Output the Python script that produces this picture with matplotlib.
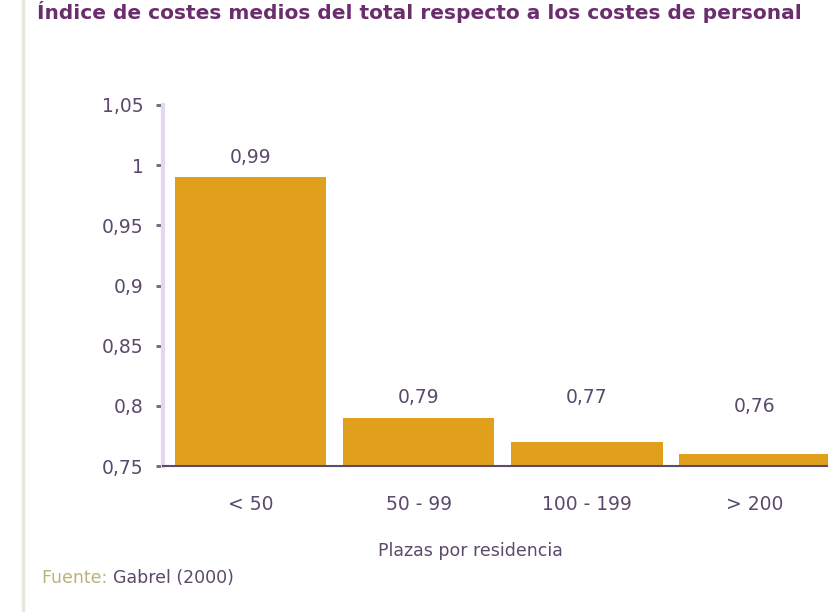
import matplotlib.pyplot as plt
from matplotlib.lines import Line2D
from matplotlib.ticker import FuncFormatter

# Indice de costes por tamaño de residencia
categorias = ['< 50', '50 - 99', '100 - 199', '> 200']
indice = [0.99, 0.79, 0.77, 0.76]
etiquetas = ['0,99', '0,79', '0,77', '0,76']
yticks = [0.75, 0.8, 0.85, 0.9, 0.95, 1.0, 1.05]

morado = '#5b4a6b'
naranja = '#e0a01c'

plt.rcParams['font.family'] = ['DejaVu Sans']

fig = plt.figure(figsize=(8.29, 6.12), dpi=100)
ax = fig.add_axes([163 / 829, 1 - 466 / 612, 1 - 163 / 829, (466 - 105) / 612])

x = range(len(categorias))
ax.bar(x, indice, width=0.9, color=naranja, zorder=2)
ax.set_xlim(-0.52, 3.44)
ax.set_ylim(0.75, 1.05)

# etiquetas de valor sobre cada barra (desplazamiento en puntos)
desp = [14, 15, 32, 34]
for i, (v, t) in enumerate(zip(indice, etiquetas)):
    ax.annotate(t, (i, v), xytext=(0, desp[i]), textcoords='offset points',
                ha='center', va='center', fontsize=13.5, color=morado)

ax.set_yticks(yticks)
ax.yaxis.set_major_formatter(FuncFormatter(lambda v, p: ('%g' % v).replace('.', ',')))
ax.set_xticks(list(x))
ax.set_xticklabels(categorias)
ax.tick_params(axis='y', length=5, width=2, color='#6f6280', labelcolor=morado,
               labelsize=13.5, pad=9)
ax.tick_params(axis='x', length=0, labelcolor=morado, labelsize=13.5, pad=21)

for s in ['top', 'right']:
    ax.spines[s].set_visible(False)
ax.spines['left'].set_color('#e2d9ee')
ax.spines['left'].set_linewidth(3)
ax.spines['bottom'].set_color(morado)
ax.spines['bottom'].set_linewidth(1.5)
ax.spines['bottom'].set_zorder(3)

fig.text(470 / 829, 1 - 551 / 612, 'Plazas por residencia', ha='center', va='center',
         fontsize=12.5, color=morado)

# fuente
t1 = fig.text(42 / 829, 1 - 578 / 612, 'Fuente: ', ha='left', va='center',
              fontsize=12.5, color='#b9b27a')
fig.canvas.draw()
bb = t1.get_window_extent()
fig.text(bb.x1 / 829, 1 - 578 / 612, 'Gabrel (2000)', ha='left', va='center',
         fontsize=12.5, color=morado)

# titulo en el borde superior
fig.text(37 / 829, 1 - 1 / 612, 'Índice de costes medios del total respecto a los costes de personal',
         ha='left', va='top', fontsize=14.5, fontweight='bold', color='#6b2d6e')

# linea vertical a la izquierda
fig.add_artist(Line2D([23 / 829, 23 / 829], [0, 1], color='#e8e7da', lw=2.5,
                      transform=fig.transFigure))

fig.savefig('out.png', dpi=100)
